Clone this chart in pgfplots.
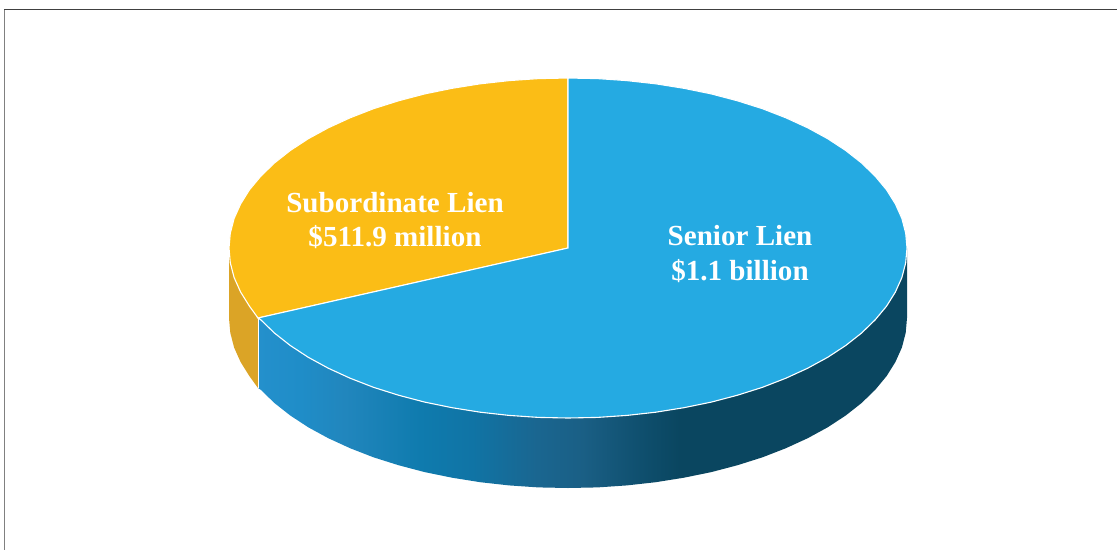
\documentclass[border=0pt]{standalone}
\usepackage{pgfplots}
\pgfplotsset{compat=1.18}
\usepackage{fontspec}
\setmainfont{Liberation Serif}
\definecolor{senior}{HTML}{25AAE2}
\definecolor{subord}{HTML}{FBBD16}
\definecolor{subordside}{HTML}{DBA426}
\definecolor{s0}{HTML}{2490CC}
\definecolor{s1}{HTML}{1F8DC8}
\definecolor{s2}{HTML}{2186BD}
\definecolor{s3}{HTML}{0F7BAE}
\definecolor{s4}{HTML}{1074A5}
\definecolor{s5}{HTML}{1A6690}
\definecolor{s6}{HTML}{1A5F85}
\definecolor{s7}{HTML}{0F4F6E}
\definecolor{s8}{HTML}{0A4660}
% the path's box spans 25bp to 75bp of the shading
\pgfdeclarehorizontalshading{sideshade}{100bp}{
  color(0bp)=(s0); color(25bp)=(s0); color(28.25bp)=(s1); color(31.7bp)=(s2); color(37.5bp)=(s3);
  color(41.5bp)=(s4); color(46.5bp)=(s5); color(50bp)=(s6); color(54.5bp)=(s7);
  color(57.5bp)=(s8); color(100bp)=(s8)}

\begin{document}
\begin{tikzpicture}
\begin{axis}[
    width=1117pt,
    height=550pt,
    scale only axis,
    axis lines=none,
    xmin=0, xmax=1117,
    ymin=0, ymax=550,
    y dir=reverse,
]
% page background and frame
\addplot[fill=white, draw=none] coordinates {(0,0) (1117,0) (1117,550) (0,550)} --cycle;
\addplot[color=black!75, line width=1.2pt] coordinates {(4,9.5) (1117,9.5)};
\addplot[color=black!50, line width=1.5pt] coordinates {(4.5,9.5) (4.5,550)};

% side wall, subordinate
\addplot[fill=subordside, draw=none] coordinates {
  (229,248) (230.3,262.8) (234.1,277.5) (240.6,292) (249.4,306.1) (258,318)
  (258,388) (249.4,376.1) (240.6,362) (234.1,347.5) (230.3,332.8) (229,318)
} --cycle;
% side wall, senior
\addplot[shading=sideshade, draw=none] coordinates {
  (258,318) (260.8,319.8) (274.4,333) (290.3,345.5) (308.3,357.3) (328.3,368.2)
  (350.1,378.2) (373.5,387.3) (398.5,395.2) (424.7,402.1) (452.1,407.7) (480.3,412.2)
  (509.1,415.4) (538.4,417.4) (568,418) (597.6,417.4) (626.9,415.4) (655.7,412.2)
  (683.9,407.7) (711.3,402.1) (737.5,395.2) (762.5,387.3) (785.9,378.2) (807.7,368.2)
  (827.7,357.3) (845.7,345.5) (861.6,333) (875.2,319.8) (886.6,306.1) (895.4,292)
  (901.9,277.5) (905.7,262.8) (907,248)
  (907,318) (905.7,332.8) (901.9,347.5) (895.4,362) (886.6,376.1) (875.2,389.8)
  (861.6,403) (845.7,415.5) (827.7,427.3) (807.7,438.2) (785.9,448.2) (762.5,457.3)
  (737.5,465.2) (711.3,472.1) (683.9,477.7) (655.7,482.2) (626.9,485.4) (597.6,487.4)
  (568,488) (538.4,487.4) (509.1,485.4) (480.3,482.2) (452.1,477.7) (424.7,472.1)
  (398.5,465.2) (373.5,457.3) (350.1,448.2) (328.3,438.2) (308.3,427.3) (290.3,415.5)
  (274.4,403) (260.8,389.8) (258,388)
} --cycle;
\addplot[color=white, line width=1pt] coordinates {(258,318) (258,388)};

% top, subordinate slice
\addplot[fill=subord, draw=white, line width=1.1pt] coordinates {
  (568,248) (258,318) (249.4,306.1) (240.6,292) (234.1,277.5) (230.3,262.8) (229,248)
  (230.3,233.2) (234.1,218.5) (240.6,204) (249.4,189.9) (260.8,176.2) (274.4,163)
  (290.3,150.5) (308.3,138.7) (328.3,127.8) (350.1,117.8) (373.5,108.7) (398.5,100.8)
  (424.7,93.9) (452.1,88.3) (480.3,83.8) (509.1,80.6) (538.4,78.6) (568,78)
} --cycle;
% top, senior slice
\addplot[fill=senior, draw=white, line width=1.1pt] coordinates {
  (568,248) (568,78) (597.6,78.6) (626.9,80.6) (655.7,83.8) (683.9,88.3) (711.3,93.9)
  (737.5,100.8) (762.5,108.7) (785.9,117.8) (807.7,127.8) (827.7,138.7) (845.7,150.5)
  (861.6,163) (875.2,176.2) (886.6,189.9) (895.4,204) (901.9,218.5) (905.7,233.2)
  (907,248) (905.7,262.8) (901.9,277.5) (895.4,292) (886.6,306.1) (875.2,319.8)
  (861.6,333) (845.7,345.5) (827.7,357.3) (807.7,368.2) (785.9,378.2) (762.5,387.3)
  (737.5,395.2) (711.3,402.1) (683.9,407.7) (655.7,412.2) (626.9,415.4) (597.6,417.4)
  (568,418) (538.4,417.4) (509.1,415.4) (480.3,412.2) (452.1,407.7) (424.7,402.1)
  (398.5,395.2) (373.5,387.3) (350.1,378.2) (328.3,368.2) (308.3,357.3) (290.3,345.5)
  (274.4,333) (260.8,319.8) (258,318)
} --cycle;

\node[text=white, font=\fontsize{29.1}{34.5}\selectfont\bfseries, align=center] at (axis cs:395,220.5) {Subordinate Lien\\\$511.9 million};
\node[text=white, font=\fontsize{29.1}{34.5}\selectfont\bfseries, align=center] at (axis cs:740,254) {Senior Lien\\\$1.1 billion};
\end{axis}
\end{tikzpicture}
\end{document}
